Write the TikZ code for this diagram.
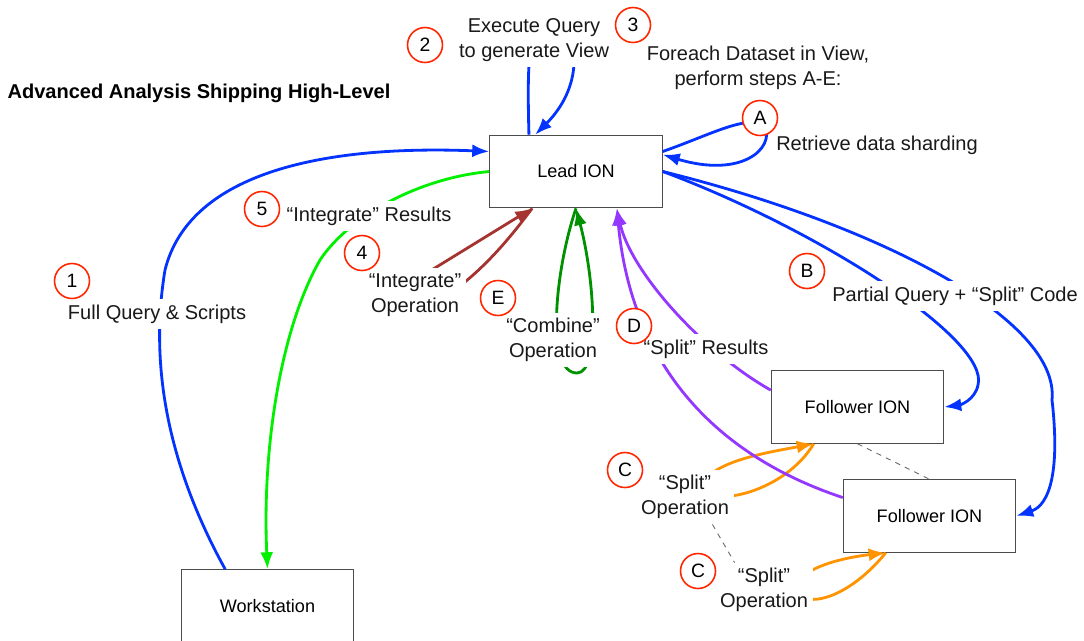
\documentclass[tikz,border=0pt]{standalone}
\usepackage{fontspec}
\setmainfont{Liberation Sans}
\usetikzlibrary{arrows.meta}
\definecolor{flowblue}{RGB}{4,51,255}
\definecolor{flowlime}{RGB}{0,240,0}
\definecolor{flowclover}{RGB}{0,145,0}
\definecolor{flowbrown}{RGB}{165,52,48}
\definecolor{flowgrape}{RGB}{148,55,255}
\definecolor{flowtangerine}{RGB}{255,147,0}
\definecolor{badgered}{RGB}{255,38,0}

\begin{document}
\begin{tikzpicture}[x=0.02cm,y=-0.02cm,>=Latex,
  ionbox/.style={draw=black!70,line width=0.6pt,fill=white,minimum width=3.45cm,minimum height=1.45cm,font=\fontsize{10.3}{12}\selectfont},
  lbl/.style={fill=white,align=center,inner sep=3pt,text=black!90,font=\fontsize{11.4}{14.2}\selectfont},
  badge/.style={circle,draw=badgered,line width=0.9pt,fill=white,minimum size=0.7cm,inner sep=0pt,font=\fontsize{11}{12}\selectfont},
  flow/.style={line width=1.6pt,-{Latex[length=3.4mm,width=2.6mm]}},
  tie/.style={draw=black!60,dashed,line width=0.5pt}]
\useasboundingbox (0,0) rectangle (1084,640);

\node[font=\bfseries\fontsize{11.4}{13}\selectfont] (title) at (199,93) {Advanced Analysis Shipping High-Level};

\node[ionbox] (lead) at (576,171.5) {Lead ION};
\node[ionbox] (fol1) at (857.5,407) {Follower ION};
\node[ionbox] (fol2) at (929.5,516) {Follower ION};
\node[ionbox] (ws) at (267.5,606) {Workstation};

\draw[flow,flowblue] (ws.139) .. controls (165,460) and (150,360) .. (165,270) .. controls (190,170) and (330,145) .. (lead.167);
\draw[flow,flowblue] (lead.142) .. controls (527,60) and (528,20) .. (550,20) .. controls (575,20) and (590,80) .. (lead.138);
\draw[flow,flowblue] (lead.13) .. controls (710,135) and (745,115) .. (765,125) .. controls (775,150) and (740,178) .. (lead.11);
\draw[flow,flowblue] (lead.east) .. controls (820,230) and (990,340) .. (978,385) .. controls (975,400) and (960,405) .. (fol1.east);
\draw[flow,flowblue] (lead.east) .. controls (880,225) and (1060,320) .. (1052,400) .. controls (1060,470) and (1050,505) .. (fol2.east);
\draw[flow,flowtangerine] (fol1.-140) .. controls (780,500) and (690,510) .. (705,480) .. controls (720,460) and (770,452) .. (fol1.-140);
\draw[flow,flowtangerine] (fol2.-140) .. controls (860,585) and (820,610) .. (795,595) .. controls (790,570) and (840,558) .. (fol2.-140);
\draw[flow,flowgrape] (fol1.169) .. controls (700,350) and (630,270) .. (lead.-42);
\draw[flow,flowgrape] (fol2.168) .. controls (700,450) and (630,350) .. (lead.-42);
\draw[flow,flowclover] (lead.south) .. controls (555,270) and (545,373) .. (577,373) .. controls (600,373) and (595,280) .. (lead.south);
\draw[flow,flowbrown] (lead.-140) .. controls (510,238) and (485,268) .. (452,292) .. controls (435,290) and (420,280) .. (430,271) -- (lead.-140);
\draw[flow,flowlime] (lead.west) .. controls (420,178) and (350,215) .. (320,260) .. controls (280,330) and (262,450) .. (ws.north);

\node[lbl] (exec) at (534,40) {Execute Query\\to generate View};
\node[lbl] (foreach) at (758,68) {Foreach Dataset in View,\\perform steps A-E:};
\node[lbl] (shard) at (877,145) {Retrieve data sharding};
\node[lbl] (full) at (157,314) {Full Query \& Scripts};
\node[lbl] (intres) at (369,216) {“Integrate” Results};
\node[lbl] (intop) at (415,295) {“Integrate”\\Operation};
\node[lbl] (combop) at (553,340) {“Combine”\\Operation};
\node[lbl] (splitres) at (706,349) {“Split” Results};
\node[lbl] (partial) at (955,296) {Partial Query + “Split” Code};
\node[lbl] (splitop1) at (685,497) {“Split”\\Operation};
\node[lbl] (splitop2) at (764,590) {“Split”\\Operation};

\node[badge] (n1) at (72,281) {1};
\node[badge] (n2) at (425,45) {2};
\node[badge] (n3) at (633,25) {3};
\node[badge] (n4) at (362,253) {4};
\node[badge] (n5) at (262,209) {5};
\node[badge] (sa) at (760,118) {A};
\node[badge] (sb) at (807,271) {B};
\node[badge] (sc1) at (625,470) {C};
\node[badge] (sc2) at (698,571) {C};
\node[badge] (sd) at (634,326) {D};
\node[badge] (se) at (498,298) {E};

\draw[tie] (fol1.south) -- (fol2.north);
\draw[tie] (splitop1.-45) -- (splitop2.137);
\end{tikzpicture}
\end{document}
